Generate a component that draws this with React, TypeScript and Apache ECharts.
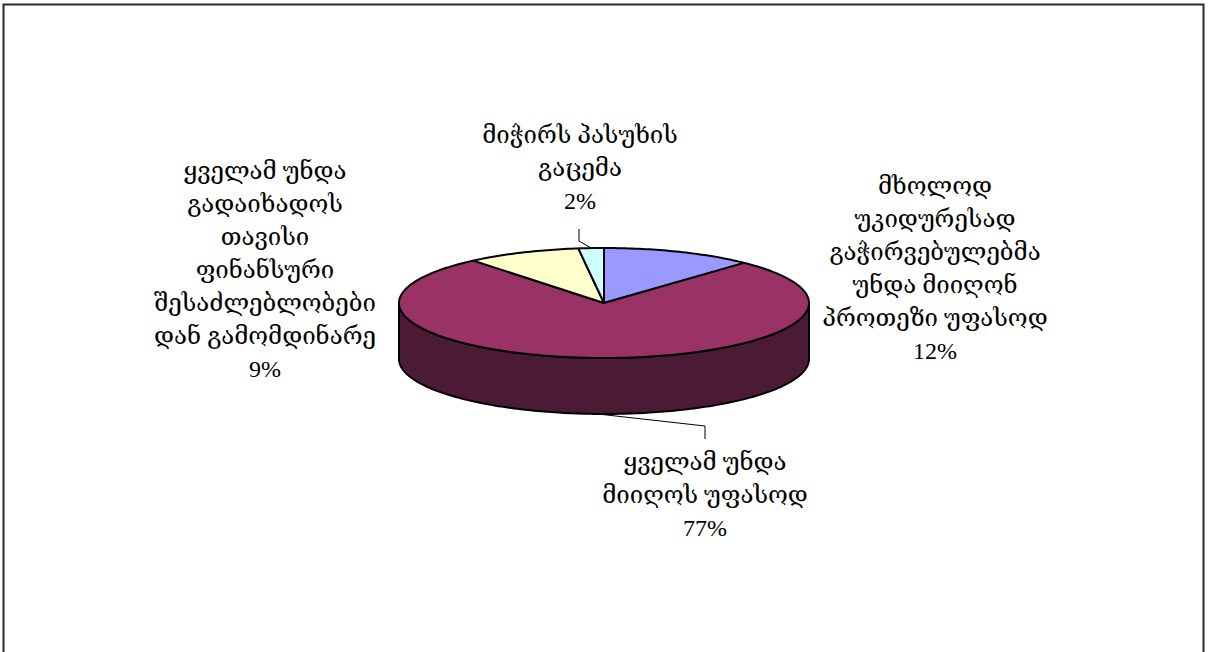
import React, { useEffect, useRef } from "react";
import * as echarts from "echarts";

// ---- data ----
const categories = [
  "მხოლოდ\nუკიდურესად\nგაჭირვებულებმა\nუნდა მიიღონ\nპროთეზი უფასოდ",
  "ყველამ უნდა\nმიიღოს უფასოდ",
  "ყველამ უნდა\nგადაიხადოს\nთავისი\nფინანსური\nშესაძლებლობები\nდან გამომდინარე",
  "მიჭირს პასუხის\nგაცემა",
];
const values = [12, 77, 9, 2];
const percentLabels = ["12%", "77%", "9%", "2%"];

// ---- styles / layout ----
const topColors = ["#9999FF", "#993366", "#FFFFCC", "#CCFFFF"];
const sideColors = ["#4D4D80", "#4B1A34", "#808066", "#668080"];
const PIE = { cx: 604, cy: 303, rx: 205, ry: 55, depth: 56 };
const labelCenters: number[][] = [
  [935, 268],
  [705, 495],
  [265, 270],
  [580, 168],
];
const leaderElbows: (number[][] | null)[] = [
  null,
  [[705, 439], [705, 426]],
  null,
  [[579, 229], [579, 241]],
];
const FONT_FAMILY = "'Liberation Serif', 'DejaVu Serif', serif";

function pt(theta: number, dy = 0): number[] {
  return [PIE.cx + PIE.rx * Math.sin(theta), PIE.cy - PIE.ry * Math.cos(theta) + dy];
}

function arc(a: number, b: number, dy = 0): number[][] {
  const pts: number[][] = [];
  const n = Math.max(2, Math.ceil(((b - a) * 180) / Math.PI));
  for (let i = 0; i <= n; i++) pts.push(pt(a + ((b - a) * i) / n, dy));
  return pts;
}

export default function App() {
  const ref = useRef<HTMLDivElement>(null);
  useEffect(() => {
    if (!ref.current) return;
    const chart = echarts.init(ref.current, undefined, { renderer: "svg" });
    const total = values.reduce((s, v) => s + v, 0);

    const renderItem = (params: any, api: any) => {
      const idx = params.dataIndex;
      const before = values.slice(0, idx).reduce((s, v) => s + v, 0);
      const v = api.value(0);
      const start = (before / total) * Math.PI * 2;
      const end = ((before + v) / total) * Math.PI * 2;
      const children: any[] = [];

      const a = Math.max(start, Math.PI / 2);
      const b = Math.min(end, (Math.PI * 3) / 2);
      if (a < b) {
        const top = arc(a, b, 0);
        const bottom = arc(a, b, PIE.depth).reverse();
        children.push({
          type: "polygon",
          z2: 1,
          shape: { points: top.concat(bottom) },
          style: { fill: sideColors[idx], stroke: "#000", lineWidth: 2, lineJoin: "round" },
        });
      }

      children.push({
        type: "polygon",
        z2: 10,
        shape: { points: [[PIE.cx, PIE.cy]].concat(arc(start, end, 0)) },
        style: { fill: topColors[idx], stroke: "#000", lineWidth: 2, lineJoin: "round" },
      });

      const [lx, ly] = labelCenters[idx];
      children.push({
        type: "text",
        z2: 0,
        style: {
          text: categories[idx] + "\n" + percentLabels[idx],
          x: lx,
          y: ly,
          fill: "#000",
          fontSize: 24,
          fontFamily: FONT_FAMILY,
          align: "center",
          verticalAlign: "middle",
          lineHeight: 33,
        },
      });

      const elbow = leaderElbows[idx];
      if (elbow) {
        const mid = (start + end) / 2;
        const front = Math.cos(mid) < 0;
        const anchor = pt(mid, front ? PIE.depth : 0);
        children.push({
          type: "polyline",
          z2: 20,
          shape: { points: elbow.concat([anchor]) },
          style: { stroke: "#000", lineWidth: 1, fill: "none" },
        });
      }

      return { type: "group", children };
    };

    chart.setOption({
      animation: false,
      backgroundColor: "#fff",
      graphic: [
        {
          type: "rect",
          z: -10,
          shape: { x: 3.5, y: 4.5, width: 1200, height: 700 },
          style: { fill: "#fff", stroke: "#2a2a2a", lineWidth: 2 },
          silent: true,
        },
      ],
      series: [
        {
          type: "custom",
          coordinateSystem: "none",
          renderItem,
          data: values.map((v, i) => ({ name: categories[i], value: [v] })),
        },
      ],
    });
    return () => chart.dispose();
  }, []);

  return (
    <div
      ref={ref}
      style={{ position: "absolute", left: 0, top: 0, width: 1209, height: 652 }}
    />
  );
}
